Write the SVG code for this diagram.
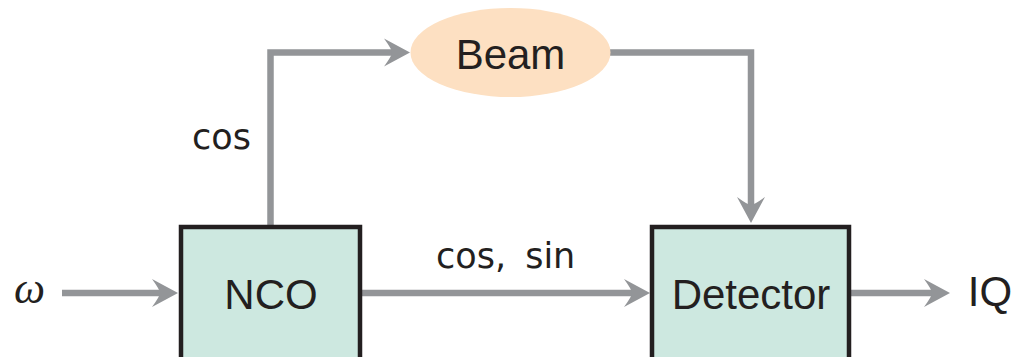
<svg xmlns="http://www.w3.org/2000/svg" width="1014" height="357" viewBox="0 0 1014 357">
<style>
.line{fill:none;stroke:#939598;stroke-width:6.5;}
.box{fill:#cde8e0;stroke:#231f20;stroke-width:4.5;}
.lbl{font-family:"Liberation Sans",Arial,sans-serif;font-size:42px;fill:#231f20;text-anchor:middle;}
.small{font-family:"DejaVu Sans",sans-serif;font-size:35px;fill:#231f20;}
</style>
<defs>
<marker id="ah" markerUnits="userSpaceOnUse" viewBox="-28 -15 30 30" refX="-10" refY="0" markerWidth="30" markerHeight="30" orient="auto">
<path d="M0 0 L-26 -14 Q-18 -3 -18 0 Q-18 3 -26 14 Z" fill="#939598"/>
</marker>
</defs>
<g id="connectors">
<path class="line" d="M62 293 H168" marker-end="url(#ah)"/>
<path class="line" d="M362 293 H640" marker-end="url(#ah)"/>
<path class="line" d="M851 293 H940" marker-end="url(#ah)"/>
<path class="line" d="M270.5 225 V52.5 H400" marker-end="url(#ah)"/>
<path class="line" d="M610 52.5 H751 V213" marker-end="url(#ah)"/>
</g>
<g id="nco">
<rect class="box" x="181" y="227" width="179" height="140"/>
<text class="lbl" x="271" y="309">NCO</text>
</g>
<g id="detector">
<rect class="box" x="652" y="227" width="197" height="140"/>
<text class="lbl" x="751" y="309">Detector</text>
</g>
<g id="beam">
<ellipse cx="510.5" cy="52.5" rx="100" ry="44.5" fill="#fde0c2"/>
<text class="lbl" x="510.5" y="69">Beam</text>
</g>
<g id="labels">
<text class="small" x="192" y="149">cos</text>
<text class="small" x="436" y="268" word-spacing="8">cos, sin</text>
<text x="14" y="303" font-family="Liberation Serif,serif" font-style="italic" font-size="44" fill="#231f20">ω</text>
<text class="lbl" x="990" y="306">IQ</text>
</g>
</svg>
